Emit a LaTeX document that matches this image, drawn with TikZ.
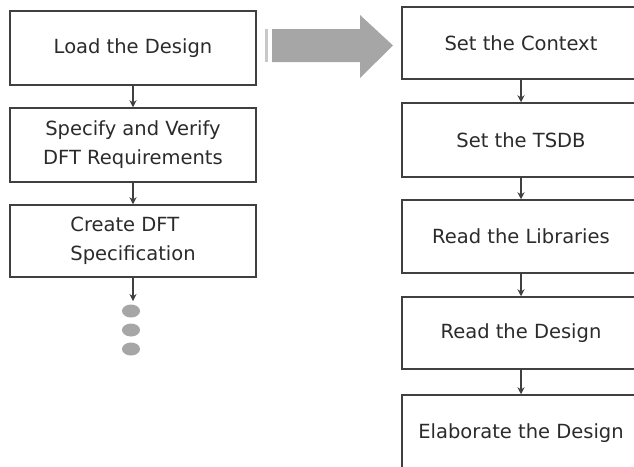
\documentclass[tikz,border=0pt]{standalone}
\usepackage{fontspec}
\setmainfont{DejaVu Sans}
\usetikzlibrary{arrows.meta}
\definecolor{boxline}{HTML}{404040}
\definecolor{txt}{HTML}{2B2B2B}
\definecolor{bigarrow}{HTML}{A6A6A6}
\definecolor{bar}{HTML}{C8C8C8}
\tikzset{
  stepbox/.style={draw=boxline, line width=1.5pt, fill=white, rectangle,
    inner sep=0pt, text=txt, font=\fontsize{19.5}{29}\selectfont},
  leftbox/.style={stepbox, minimum width=246pt},
  rightbox/.style={stepbox, minimum width=238pt},
  flow/.style={draw=boxline, line width=1.3pt, -{Stealth[length=7pt,width=7pt]}},
  dot/.style={fill=bigarrow, draw=none}
}
\begin{document}
\begin{tikzpicture}[x=1pt, y=-1pt]
\useasboundingbox (0,0) rectangle (634,466);
\clip (0,0) rectangle (634,466);
\fill[white] (0,0) rectangle (634,466);

% left column
\node[leftbox, minimum height=74pt] (load) at (133,48) {Load the Design};
\node[leftbox, minimum height=74pt, align=center] (spec) at (133,145) {Specify and Verify\\DFT Requirements};
\node[leftbox, minimum height=72pt, align=left] (create) at (133,241) {Create DFT\\Specification};
\coordinate (more) at (133,301);
\draw[flow] (load.south) -- (spec.north);
\draw[flow] (spec.south) -- (create.north);
\draw[flow] (create.south) -- (more);
\fill[dot] (131,311) ellipse (9pt and 6.5pt);
\fill[dot] (131,330) ellipse (9pt and 6.5pt);
\fill[dot] (131,349) ellipse (9pt and 6.5pt);

% block arrow between the columns
\fill[bar] (265,29) rectangle (268,62);
\fill[bigarrow] (272,29) -- (360,29) -- (360,15) -- (393,45.5) -- (360,78) -- (360,62) -- (272,62) -- cycle;

% right column
\node[rightbox, minimum height=72pt] (ctx) at (521,43) {Set the Context};
\node[rightbox, minimum height=74pt] (tsdb) at (521,140) {Set the TSDB};
\node[rightbox, minimum height=73pt] (libs) at (521,236.5) {Read the Libraries};
\node[rightbox, minimum height=72pt] (read) at (521,333) {Read the Design};
\node[rightbox, minimum height=76pt] (elab) at (521,433) {Elaborate the Design};
\draw[flow] (ctx.south) -- (tsdb.north);
\draw[flow] (tsdb.south) -- (libs.north);
\draw[flow] (libs.south) -- (read.north);
\draw[flow] (read.south) -- (elab.north);
\end{tikzpicture}
\end{document}
